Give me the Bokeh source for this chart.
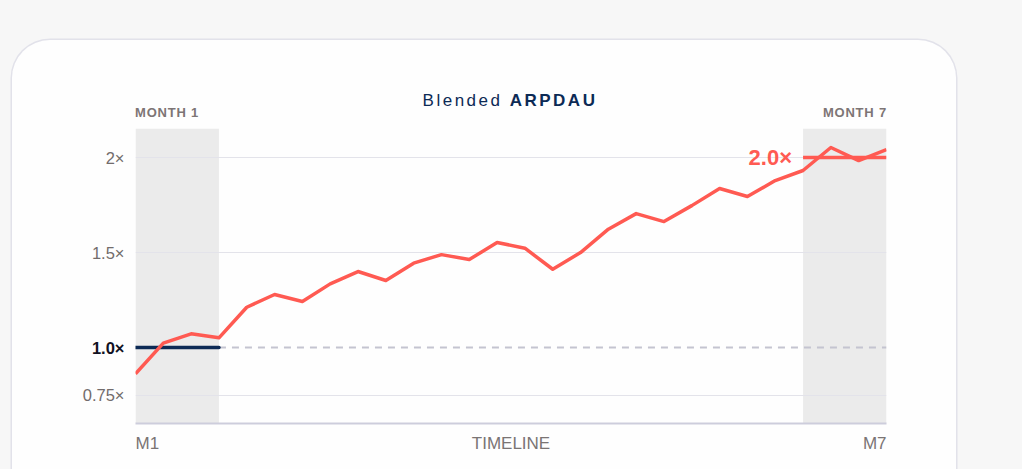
from bokeh.plotting import figure
from bokeh.models import (BoxAnnotation, Label, FixedTicker, Range1d, LinearAxis,
                          Div, Column)
from bokeh.embed import file_html
from bokeh.resources import INLINE

# ---- data ----
periods = list(range(28))
arpdau = [0.862, 1.023, 1.072, 1.051, 1.212, 1.279, 1.242, 1.335, 1.400, 1.353,
          1.444, 1.489, 1.463, 1.553, 1.523, 1.412, 1.500, 1.623, 1.705, 1.663,
          1.747, 1.837, 1.795, 1.879, 1.932, 2.053, 1.984, 2.042]
baseline = 1.0
target = 2.0
month1_window = [0, 3]
month7_window = [24, 27]
y_ticks = [0.75, 1.0, 1.5, 2.0]
y_tick_labels = ["0.75×", "1.0×", "1.5×", "2×"]
x_labels = ["M1", "TIMELINE", "M7"]
window_labels = ["MONTH 1", "MONTH 7"]
title_parts = ["Blended", "ARPDAU"]
target_label = "2.0×"

FONT = "Liberation Sans"
RED = "#ff5a52"
NAVY = "#0c2a55"
PAGE = "#f7f7f7"
CARD = "#fefefe"

# layout geometry (page pixels)
W, H = 1022, 469
CARD_L, CARD_T, CARD_R = 12, 40, 956
FL, FR, FT, FB = 135, 886, 128, 423
CW = CARD_R - CARD_L
X0, X1 = periods[0], periods[-1]
Y0, Y1 = 0.6, 2.153
TICK_FS = 16.5

# ---- header (title + window labels) ----
hdr_h = FT - CARD_T
title_center = 510 - CARD_L
header_html = f"""
<div style="position:relative;width:{CW}px;height:{hdr_h}px;font-family:'{FONT}';">
  <div style="position:absolute;left:0;top:52px;width:{2*title_center}px;text-align:center;
              font-size:17px;line-height:1;letter-spacing:2.5px;color:{NAVY};white-space:nowrap;">
    {title_parts[0]} <b>{title_parts[1]}</b></div>
  <div style="position:absolute;left:{FL-CARD_L}px;top:66px;font-size:13px;line-height:1;
              font-weight:bold;letter-spacing:0.8px;color:#7d7575;white-space:nowrap;">
    {window_labels[0]}</div>
  <div style="position:absolute;right:{CARD_R-FR-1}px;top:66px;font-size:13px;line-height:1;
              font-weight:bold;letter-spacing:0.8px;color:#7d7575;white-space:nowrap;">
    {window_labels[1]}</div>
</div>
"""
header = Div(text=header_html, width=CW, height=hdr_h, margin=0)

# ---- figure ----
p = figure(width=CW, height=H - FT, output_backend="svg", toolbar_location=None,
           x_range=Range1d(X0, X1), y_range=Range1d(Y0, Y1),
           min_border_left=FL - CARD_L, min_border_right=CARD_R - FR,
           min_border_top=0, min_border_bottom=H - FB, margin=0)
p.border_fill_color = CARD
p.background_fill_color = CARD
p.outline_line_color = None

# month windows
for w in (month1_window, month7_window):
    p.add_layout(BoxAnnotation(left=w[0], right=w[1], fill_color="#ebebeb",
                               fill_alpha=1.0, line_color=None, level="image"))

# grid
p.xgrid.visible = False
p.ygrid.ticker = FixedTicker(ticks=[t for t in y_ticks if t != baseline])
p.ygrid.grid_line_color = "#e3e3ea"
p.ygrid.grid_line_width = 1.2

# y axis (regular labels, next to the frame)
ya = p.yaxis[0]
reg = [(t, l) for t, l in zip(y_ticks, y_tick_labels) if t != baseline]
ya.ticker = FixedTicker(ticks=[t for t, _ in reg])
ya.major_label_overrides = {t: l for t, l in reg}
ya.major_label_standoff = 11
# y axis (baseline label, bold) - stacked outside, pulled back to align
widest = 2.53 * TICK_FS  # approx width of "0.75×"
yb = LinearAxis(ticker=FixedTicker(ticks=[baseline]),
                major_label_overrides={baseline: y_tick_labels[y_ticks.index(baseline)]},
                major_label_standoff=-round(widest) - 3)
p.add_layout(yb, "left")
for ax, style, color in ((ya, "normal", "#726c6c"), (yb, "bold", "#111122")):
    ax.axis_line_color = None
    ax.major_tick_line_color = None
    ax.minor_tick_line_color = None
    ax.major_tick_out = 0
    ax.major_tick_in = 0
    ax.minor_tick_out = 0
    ax.major_label_text_font = FONT
    ax.major_label_text_font_size = f"{TICK_FS}px"
    ax.major_label_text_font_style = style
    ax.major_label_text_color = color

# x axis
half_m = 11.8 / (FR - FL) * (X1 - X0)
x_tick_pos = [X0 + half_m, (X0 + X1) / 2, X1 - half_m]
p.xaxis.ticker = FixedTicker(ticks=x_tick_pos)
p.xaxis.major_label_overrides = {t: l for t, l in zip(x_tick_pos, x_labels)}
p.xaxis.axis_line_color = "#cdcddc"
p.xaxis.axis_line_width = 2
p.xaxis.major_tick_line_color = None
p.xaxis.minor_tick_line_color = None
p.xaxis.major_tick_out = 0
p.xaxis.major_tick_in = 0
p.xaxis.minor_tick_out = 0
p.xaxis.major_label_standoff = 10
p.xaxis.major_label_text_font = FONT
p.xaxis.major_label_text_font_size = "17px"
p.xaxis.major_label_text_color = "#7a7474"

# baseline lines
p.line([month1_window[1], X1], [baseline, baseline], line_color="#c4c4d0",
       line_width=1.8, line_dash="7 6")
p.line(month1_window, [baseline, baseline], line_color=NAVY, line_width=3.5,
       line_cap="round")
# target line
p.line(month7_window, [target, target], line_color=RED, line_width=3.5)
# data line
p.line(periods, arpdau, line_color=RED, line_width=3.5, line_join="round")

p.add_layout(Label(x=month7_window[0], y=target, x_offset=-11, text=target_label,
                   text_align="right", text_baseline="middle",
                   text_font=FONT, text_font_style="bold",
                   text_font_size="22px", text_color=RED))

card = Column(children=[header, p], width=CW, height=H - CARD_T,
              margin=(CARD_T, 0, 0, CARD_L),
              styles={"background-color": CARD,
                      "border-radius": "38px 38px 0 0",
                      "box-shadow": "0 0 0 1.5px #e2e2ea"})
page = Column(children=[card], width=W, height=H, margin=0,
              styles={"background-color": PAGE})

open("out.html", "w").write(file_html(page, INLINE))
